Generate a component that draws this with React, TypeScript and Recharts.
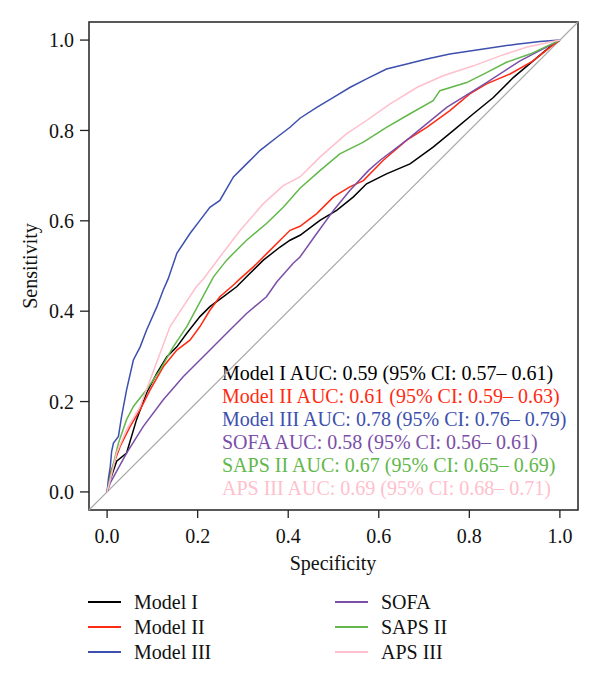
import { LineChart, Line, XAxis, YAxis, ReferenceLine, ReferenceArea } from 'recharts';

type Pt = { x: number; y: number };
const toPts = (rows: number[][]): Pt[] => rows.map(([x, y]) => ({ x, y }));

// ROC coordinates [specificity axis, sensitivity]
const modelI = toPts([
  [0, 0], [0.007, 0.027], [0.021, 0.068], [0.043, 0.086], [0.065, 0.16], [0.087, 0.219],
  [0.11, 0.263], [0.132, 0.299], [0.154, 0.321], [0.176, 0.351], [0.205, 0.388], [0.227, 0.41],
  [0.257, 0.432], [0.286, 0.454], [0.308, 0.476], [0.345, 0.513], [0.382, 0.542], [0.404, 0.557],
  [0.426, 0.568], [0.47, 0.601], [0.507, 0.623], [0.544, 0.653], [0.573, 0.682], [0.617, 0.704],
  [0.669, 0.726], [0.72, 0.763], [0.765, 0.8], [0.809, 0.837], [0.853, 0.873], [0.897, 0.917],
  [0.941, 0.954], [0.985, 0.991], [1, 1],
]);

const modelII = toPts([
  [0, 0], [0.007, 0.042], [0.029, 0.101], [0.051, 0.145], [0.073, 0.182], [0.095, 0.226],
  [0.124, 0.277], [0.154, 0.314], [0.183, 0.336], [0.205, 0.366], [0.227, 0.402], [0.249, 0.432],
  [0.279, 0.458], [0.294, 0.472], [0.323, 0.498], [0.353, 0.528], [0.382, 0.557], [0.404, 0.579],
  [0.426, 0.588], [0.463, 0.616], [0.5, 0.653], [0.536, 0.675], [0.566, 0.689], [0.61, 0.734],
  [0.661, 0.778], [0.706, 0.807], [0.757, 0.844], [0.801, 0.881], [0.838, 0.903], [0.89, 0.925],
  [0.941, 0.954], [0.978, 0.984], [1, 1],
]);

const modelIII = toPts([
  [0, 0], [0.003, 0.03], [0.007, 0.056], [0.01, 0.09], [0.014, 0.108], [0.025, 0.123],
  [0.032, 0.167], [0.043, 0.226], [0.058, 0.292], [0.073, 0.321], [0.087, 0.358], [0.11, 0.41],
  [0.124, 0.447], [0.135, 0.472], [0.154, 0.528], [0.183, 0.572], [0.205, 0.601], [0.227, 0.63],
  [0.249, 0.645], [0.279, 0.697], [0.308, 0.726], [0.338, 0.756], [0.375, 0.785], [0.404, 0.807],
  [0.426, 0.827], [0.463, 0.851], [0.5, 0.873], [0.536, 0.895], [0.573, 0.914], [0.617, 0.936],
  [0.662, 0.947], [0.706, 0.958], [0.757, 0.969], [0.831, 0.98], [0.904, 0.991], [0.956, 0.997],
  [1, 1],
]);

const sofa = toPts([
  [0, 0], [0.007, 0.02], [0.043, 0.086], [0.08, 0.145], [0.124, 0.204], [0.168, 0.255],
  [0.22, 0.307], [0.264, 0.351], [0.308, 0.395], [0.352, 0.432], [0.375, 0.465], [0.411, 0.506],
  [0.426, 0.52], [0.463, 0.572], [0.5, 0.623], [0.536, 0.667], [0.577, 0.711], [0.603, 0.734],
  [0.661, 0.778], [0.75, 0.851], [0.838, 0.906], [0.912, 0.954], [1, 1],
]);

const sapsII = toPts([
  [0, 0], [0.007, 0.034], [0.025, 0.108], [0.043, 0.16], [0.058, 0.189], [0.087, 0.226],
  [0.117, 0.27], [0.146, 0.321], [0.176, 0.366], [0.205, 0.42], [0.235, 0.476], [0.264, 0.513],
  [0.308, 0.557], [0.352, 0.594], [0.389, 0.63], [0.426, 0.672], [0.47, 0.711], [0.514, 0.748],
  [0.566, 0.774], [0.617, 0.807], [0.669, 0.837], [0.72, 0.866], [0.735, 0.888], [0.794, 0.906],
  [0.838, 0.928], [0.882, 0.951], [0.934, 0.969], [1, 1],
]);

const apsIII = toPts([
  [0, 0], [0.007, 0.027], [0.021, 0.086], [0.043, 0.138], [0.073, 0.189], [0.095, 0.248],
  [0.117, 0.307], [0.139, 0.366], [0.168, 0.41], [0.197, 0.454], [0.213, 0.472], [0.249, 0.52],
  [0.294, 0.579], [0.345, 0.638], [0.389, 0.678], [0.426, 0.697], [0.47, 0.741], [0.529, 0.793],
  [0.573, 0.822], [0.625, 0.859], [0.684, 0.895], [0.742, 0.921], [0.809, 0.943], [0.868, 0.965],
  [0.926, 0.984], [1, 1],
]);

const seriesNames = ['Model I', 'Model II', 'Model III', 'SOFA', 'SAPS II', 'APS III'];
const seriesColors = ['#000000', '#ff2a12', '#3d50ae', '#7b4ea8', '#62b84a', '#ffbfcc'];
const seriesData = [modelI, modelII, modelIII, sofa, sapsII, apsIII];
const aucLabels = [
  'AUC: 0.59 (95% CI: 0.57\u2013 0.61)',
  'AUC: 0.61 (95% CI: 0.59\u2013 0.63)',
  'AUC: 0.78 (95% CI: 0.76\u2013 0.79)',
  'AUC: 0.58 (95% CI: 0.56\u2013 0.61)',
  'AUC: 0.67 (95% CI: 0.65\u2013 0.69)',
  'AUC: 0.69 (95% CI: 0.68\u2013 0.71)',
];
const axisTicks = [0, 0.2, 0.4, 0.6, 0.8, 1];
const domain: [number, number] = [-0.04, 1.04];

const FONT = '"Liberation Serif", "DejaVu Serif", serif';
const FS = 20;
const tickStyle = { fill: '#111', fontSize: FS, fontFamily: FONT };

export default function App() {
  return (
    <div style={{ position: 'absolute', left: 0, top: 0, width: 600, height: 680, background: '#fff' }}>
      <LineChart width={600} height={680} margin={{ top: 22, right: 22, bottom: 110, left: 0 }}>
        <XAxis
          dataKey="x"
          type="number"
          domain={domain}
          ticks={axisTicks}
          allowDataOverflow
          tickFormatter={(v) => Number(v).toFixed(1)}
          axisLine={false}
          tickSize={8}
          tickMargin={11}
          tickLine={{ stroke: '#222', strokeWidth: 1.3 }}
          tick={tickStyle}
          height={60}
        />
        <YAxis
          dataKey="y"
          type="number"
          domain={domain}
          ticks={axisTicks}
          allowDataOverflow
          tickFormatter={(v) => Number(v).toFixed(1)}
          axisLine={false}
          tickSize={9}
          tickMargin={6}
          tickLine={{ stroke: '#222', strokeWidth: 1.3 }}
          tick={tickStyle}
          width={89}
        />
        <ReferenceLine
          segment={[{ x: -0.04, y: -0.04 }, { x: 1.04, y: 1.04 }]}
          stroke="#aaaaaa"
          strokeWidth={1.2}
          ifOverflow="visible"
        />
        {seriesData.map((d, i) => (
          <Line
            key={seriesNames[i]}
            data={d}
            dataKey="y"
            type="linear"
            stroke={seriesColors[i]}
            strokeWidth={1.5}
            dot={false}
            isAnimationActive={false}
          />
        ))}
        <ReferenceArea x1={-0.04} x2={1.04} y1={-0.04} y2={1.04} fill="none" stroke="#222" strokeWidth={1.5} />
        {aucLabels.map((t, i) => (
          <text
            key={t}
            x={222}
            y={373 + i * 23}
            dominantBaseline="central"
            fill={seriesColors[i]}
            fontSize={FS}
            fontFamily={FONT}
          >
            {`${seriesNames[i]} ${t}`}
          </text>
        ))}
        <text x={333} y={563} textAnchor="middle" dominantBaseline="central" fontSize={FS} fontFamily={FONT} fill="#111">
          Specificity
        </text>
        <text
          x={30}
          y={266}
          textAnchor="middle"
          dominantBaseline="central"
          transform="rotate(-90 30 266)"
          fontSize={FS}
          fontFamily={FONT}
          fill="#111"
        >
          Sensitivity
        </text>
      </LineChart>
      <div style={{ position: 'absolute', left: 0, top: 589, width: 600, fontFamily: FONT, fontSize: FS, color: '#111' }}>
        {seriesNames.map((name, i) => {
          const col = Math.floor(i / 3);
          const row = i % 3;
          return (
            <div
              key={name}
              style={{
                position: 'absolute',
                left: col === 0 ? 88 : 335,
                top: row * 25,
                height: 26,
                display: 'flex',
                alignItems: 'center',
                whiteSpace: 'nowrap',
              }}
            >
              <span style={{ display: 'inline-block', width: 33, height: 2, background: seriesColors[i] }} />
              <span style={{ marginLeft: 13 }}>{name}</span>
            </div>
          );
        })}
      </div>
    </div>
  );
}
